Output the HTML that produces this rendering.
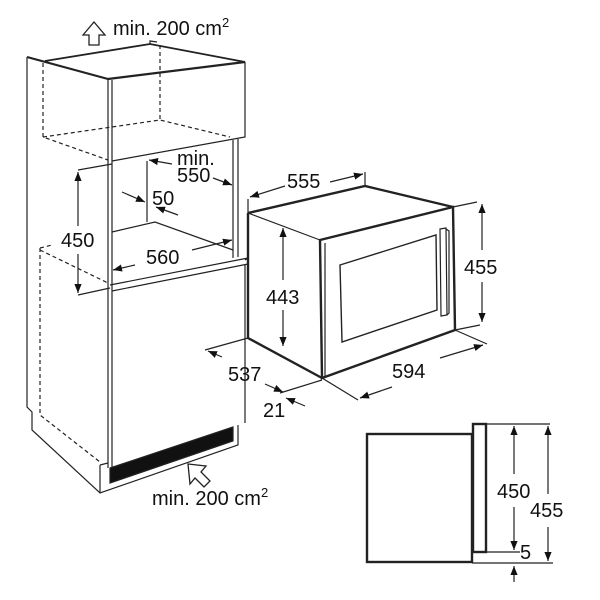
<!DOCTYPE html>
<html><head><meta charset="utf-8"><style>
html,body{margin:0;padding:0;background:#fff}
svg{display:block}
text{font-family:"Liberation Sans",Arial,sans-serif;font-size:20px;fill:#111}
</style></head><body>
<svg width="600" height="600" viewBox="0 0 600 600" xmlns="http://www.w3.org/2000/svg">
<defs>
<marker id="a" viewBox="0 0 10 10" refX="10" refY="5" markerWidth="9" markerHeight="9" orient="auto-start-reverse" markerUnits="userSpaceOnUse"><path d="M0,1 L10,5 L0,9 Z" fill="#111"/></marker>
</defs>
<g stroke="#222" fill="none" stroke-width="1.2">
<path d="M27,57 L27,407 L32,412 L32,430 L100,493 L238,445 L238,425" />
<path d="M27,57 L108,79" stroke-width="2.2"/>
<path d="M45,61 L150,44 L245,62" stroke-width="1.8"/>
<path d="M150,44 L150,41 L157,42" />
<path d="M108,79 L245,62" stroke-width="2.2"/>
<path d="M245,62 L245,137 L112,161" />
<path d="M108,79 L108,468 M112,80 L112,467" />
<path d="M233,140 L233,258 M238,139 L238,257" />
<g stroke-dasharray="4,3">
<path d="M43,63 L43,137 L108,160 M43,137 L160,120 L230,137 M160,45 L160,120"/>
<path d="M40,248 L40,415 L100,462 M40,248 L52,245 M40,250 L108,283"/>
</g>
<path d="M147,161 L147,222 M112,232 L155,222 L233,250"/>
<path d="M110,285 L248,258 M112,291 L248,264 M245,264 L245,423 M245,260 L248,258"/>
<path d="M100,465 L100,493 M100,465 L108,463"/>
<path d="M110,468 L233,427 L233,441 L110,483 Z" fill="#111"/>
<path d="M78,170 L112,164 M78,295 L110,288"/>
<path d="M78,172 L78,226 M78,254 L78,293" marker-start="url(#a)" marker-end="url(#a)"/>
<path d="M172,164 L149,160" marker-end="url(#a)"/>
<path d="M213,178 L232,185" marker-end="url(#a)"/>
<path d="M122,192 L145,202" marker-end="url(#a)"/>
<path d="M178,215 L156,207" marker-end="url(#a)"/>
<path d="M135,265 L113,270" marker-end="url(#a)"/>
<path d="M192,250 L232,240" marker-end="url(#a)"/>
<path d="M83,35 L94,22 L105,35 L99,35 L99,45 L89,45 L89,35 Z" stroke-width="1.3"/>
<path d="M188,464 L206,466 L201,472 L210,481 L204,487 L195,478 L190,484 Z" stroke-width="1.3"/>

<path d="M248,213 L365,186 L453,207" stroke-width="2.4"/>
<path d="M248,213 L320,240" stroke-width="1.2"/>
<path d="M248,213 L248,338 L322,378" stroke-width="2.4"/>
<path d="M320,240 L453,207 L455,330 L322,378 Z" stroke-width="2.4"/>
<path d="M325,243 L325,376" />
<path d="M340,265 L436,235 L437,310 L342,342 Z" stroke-width="1.4"/>
<path d="M440,229 L446,228 L447,315 L441,316 Z M446,229 L449,231 L449,313 L447,315" />
<path d="M248,213 L248,199 M365,186 L365,172"/>
<path d="M285,186 L250,197" marker-end="url(#a)"/>
<path d="M330,182 L363,174" marker-end="url(#a)"/>
<path d="M283,228 L283,280 M283,310 L283,346" marker-start="url(#a)" marker-end="url(#a)"/>
<path d="M453,207 L477,202 M455,330 L480,325"/>
<path d="M482,204 L482,250 M482,282 L482,322" marker-start="url(#a)" marker-end="url(#a)"/>
<path d="M248,338 L205,350"/>
<path d="M222,357 L208,351" marker-end="url(#a)"/>
<path d="M265,384 L283,392" marker-end="url(#a)"/>
<path d="M280,393 L322,380"/>
<path d="M305,406 L286,398" marker-end="url(#a)"/>
<path d="M322,378 L358,400 M455,330 L487,344"/>
<path d="M392,387 L360,398" marker-end="url(#a)"/>
<path d="M440,358 L483,345" marker-end="url(#a)"/>

<rect x="367" y="434" width="105" height="128" stroke-width="2.4"/>
<rect x="473" y="424" width="13" height="128" stroke-width="2.4"/>
<path d="M486,424 L550,424 M486,552 L520,552 M472,563 L553,563"/>
<path d="M514,426 L514,474 M514,507 L514,550" marker-start="url(#a)" marker-end="url(#a)"/>
<path d="M548,426 L548,494 M548,527 L548,561" marker-start="url(#a)" marker-end="url(#a)"/>
<path d="M514,582 L514,566" marker-end="url(#a)"/>
</g>

<text x="113" y="35">min. 200 cm<tspan font-size="13" dy="-8">2</tspan></text>
<text x="177" y="165">min.</text>
<text x="177" y="182">550</text>
<text x="152" y="205">50</text>
<text x="146" y="264">560</text>
<text x="61" y="247">450</text>
<text x="287" y="188">555</text>
<text x="266" y="304">443</text>
<text x="464" y="274">455</text>
<text x="228" y="381">537</text>
<text x="263" y="417">21</text>
<text x="392" y="378">594</text>
<text x="152" y="505">min. 200 cm<tspan font-size="13" dy="-8">2</tspan></text>
<text x="497" y="498">450</text>
<text x="530" y="517">455</text>
<text x="520" y="559">5</text>
</svg>
</body></html>
